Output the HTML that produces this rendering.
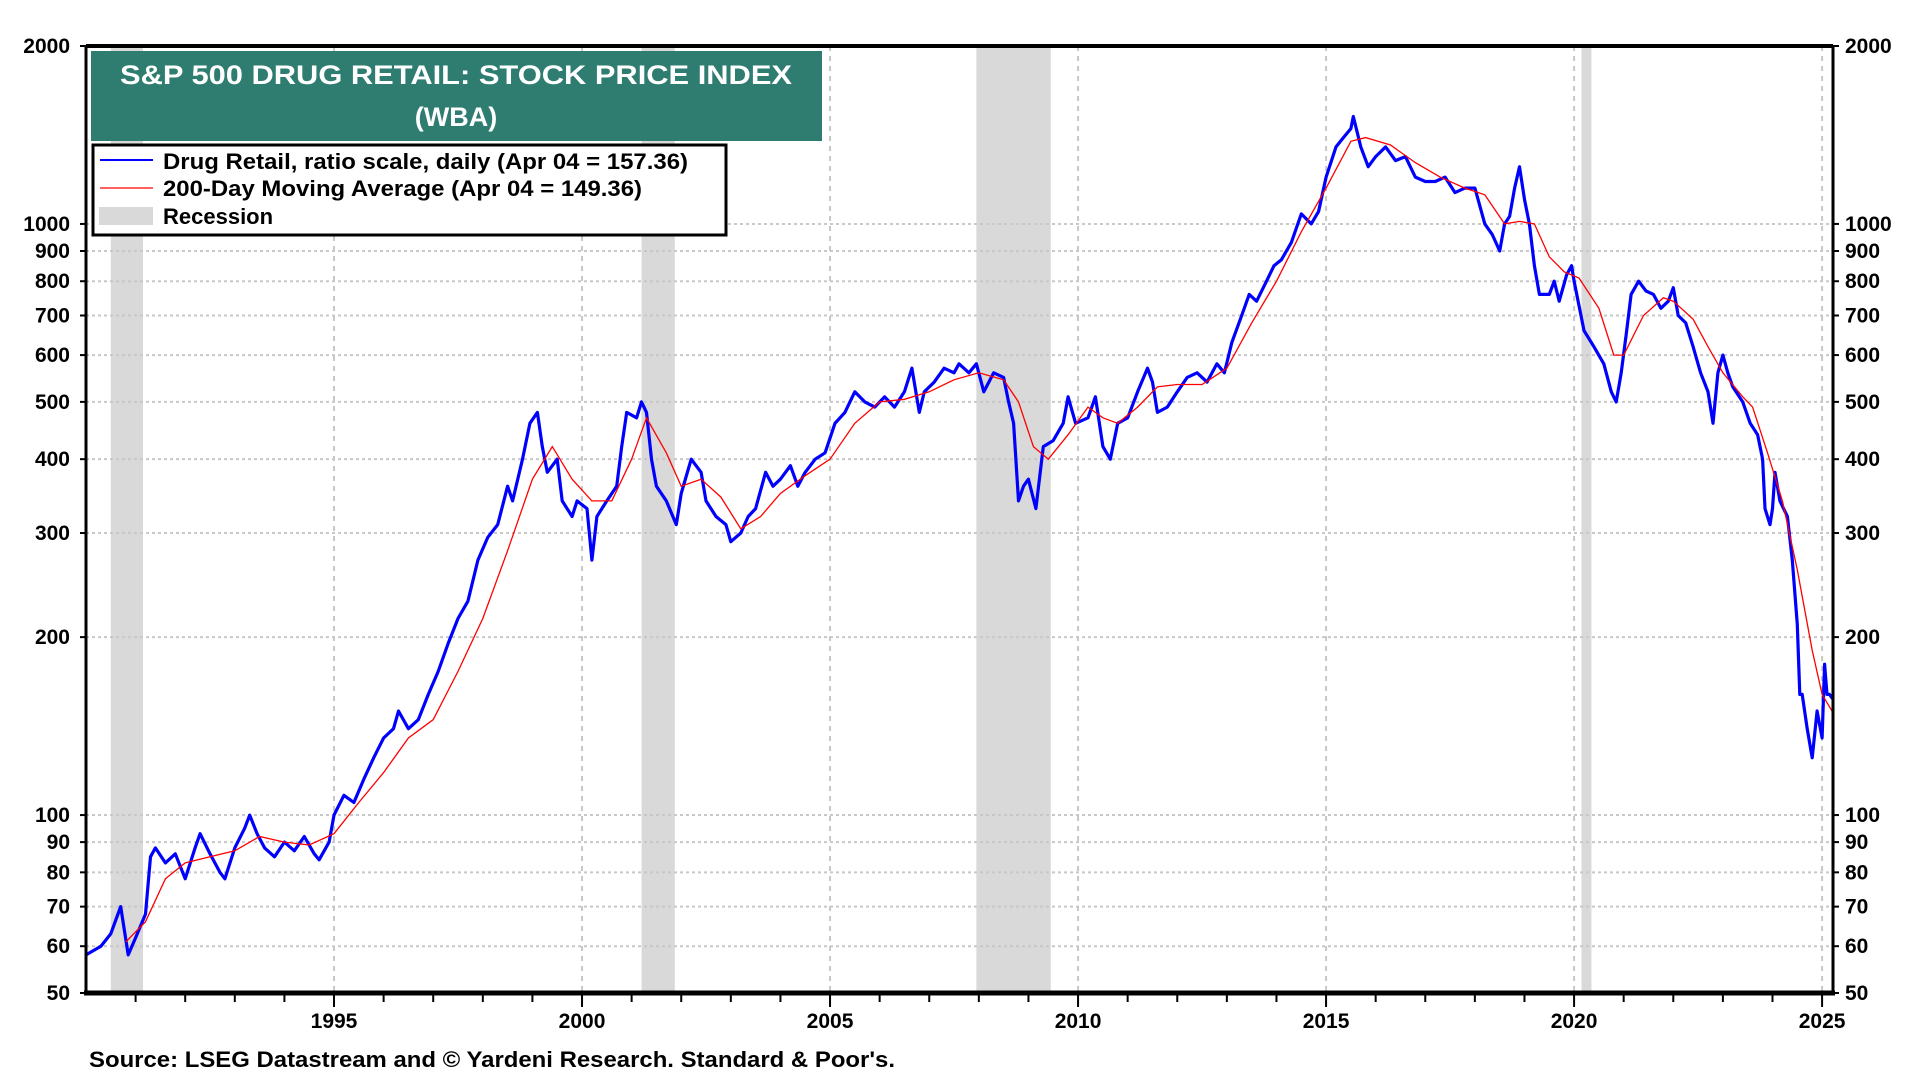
<!DOCTYPE html>
<html><head><meta charset="utf-8"><style>
html,body{margin:0;padding:0;background:#fff;}
svg{display:block;font-family:"Liberation Sans",sans-serif;}
</style></head><body>
<svg id="chart" width="1920" height="1080" viewBox="0 0 1920 1080" xmlns="http://www.w3.org/2000/svg">
<g id="recessions"></g>
<g id="grid"></g>
<g id="series"></g>
<g id="axes"></g>
<g>
<rect x="91" y="51" width="731" height="90" fill="#2e7d70"/>
<text x="456" y="84" text-anchor="middle" fill="#fff" font-size="27" font-weight="bold" textLength="672" lengthAdjust="spacingAndGlyphs">S&amp;P 500 DRUG RETAIL: STOCK PRICE INDEX</text>
<text x="456" y="126" text-anchor="middle" fill="#fff" font-size="27" font-weight="bold">(WBA)</text>
</g>
<g>
<rect x="93" y="145" width="633" height="90" fill="#fff" stroke="#000" stroke-width="3"/>
<line x1="100" y1="160" x2="153" y2="160" stroke="#0000ff" stroke-width="2"/>
<text x="163" y="169" font-size="22" font-weight="bold" textLength="525" lengthAdjust="spacingAndGlyphs">Drug Retail, ratio scale, daily (Apr 04 = 157.36)</text>
<line x1="100" y1="188" x2="153" y2="188" stroke="#ff0000" stroke-width="1.2"/>
<text x="163" y="196" font-size="22" font-weight="bold" textLength="479" lengthAdjust="spacingAndGlyphs">200-Day Moving Average (Apr 04 = 149.36)</text>
<rect x="99" y="207" width="54" height="18" fill="#d9d9d9"/>
<text x="163" y="224" font-size="22" font-weight="bold">Recession</text>
</g>
<text x="89" y="1067" font-size="22" font-weight="bold" textLength="806" lengthAdjust="spacingAndGlyphs">Source: LSEG Datastream and © Yardeni Research. Standard &amp; Poor's.</text>
</svg>
<script>
const priceDates=[1990.0,1990.3,1990.5,1990.7,1990.85,1991.0,1991.2,1991.3,1991.4,1991.6,1991.8,1992.0,1992.2,1992.3,1992.5,1992.7,1992.8,1993.0,1993.2,1993.3,1993.45,1993.6,1993.8,1994.0,1994.2,1994.4,1994.6,1994.7,1994.9,1995.0,1995.2,1995.4,1995.6,1995.8,1996.0,1996.2,1996.3,1996.5,1996.7,1996.9,1997.1,1997.3,1997.5,1997.7,1997.9,1998.1,1998.3,1998.5,1998.6,1998.8,1998.95,1999.1,1999.2,1999.3,1999.5,1999.6,1999.8,1999.9,2000.1,2000.2,2000.3,2000.5,2000.7,2000.8,2000.9,2001.1,2001.2,2001.3,2001.4,2001.5,2001.7,2001.9,2002.0,2002.2,2002.4,2002.5,2002.7,2002.9,2003.0,2003.2,2003.35,2003.5,2003.7,2003.85,2004.0,2004.2,2004.35,2004.5,2004.7,2004.9,2005.1,2005.3,2005.5,2005.7,2005.9,2006.1,2006.3,2006.5,2006.65,2006.8,2006.9,2007.1,2007.3,2007.5,2007.6,2007.8,2007.95,2008.1,2008.3,2008.5,2008.6,2008.7,2008.8,2008.9,2009.0,2009.15,2009.3,2009.5,2009.7,2009.8,2009.95,2010.2,2010.35,2010.5,2010.65,2010.8,2011.0,2011.2,2011.4,2011.5,2011.6,2011.8,2012.0,2012.2,2012.4,2012.6,2012.8,2012.95,2013.1,2013.3,2013.45,2013.6,2013.8,2013.95,2014.1,2014.3,2014.5,2014.7,2014.85,2015.0,2015.2,2015.35,2015.5,2015.55,2015.7,2015.85,2016.0,2016.2,2016.4,2016.6,2016.8,2017.0,2017.2,2017.4,2017.6,2017.8,2018.0,2018.2,2018.35,2018.5,2018.6,2018.7,2018.8,2018.9,2019.0,2019.1,2019.2,2019.3,2019.5,2019.6,2019.7,2019.85,2019.95,2020.0,2020.2,2020.4,2020.6,2020.75,2020.85,2020.95,2021.05,2021.15,2021.3,2021.45,2021.6,2021.75,2021.9,2022.0,2022.1,2022.25,2022.4,2022.55,2022.7,2022.8,2022.9,2023.0,2023.1,2023.2,2023.4,2023.55,2023.7,2023.8,2023.85,2023.95,2024.0,2024.05,2024.15,2024.3,2024.4,2024.5,2024.55,2024.6,2024.7,2024.8,2024.9,2025.0,2025.05,2025.1,2025.15,2025.22];
const priceValues=[58,60,63,70,58,62,68,85,88,83,86,78,88,93,86,80,78,88,95,100,93,88,85,90,87,92,86,84,90,100,108,105,115,125,135,140,150,140,145,160,175,195,215,230,270,295,310,360,340,400,460,480,420,380,400,340,320,340,330,270,320,340,360,420,480,470,500,480,400,360,340,310,350,400,380,340,320,310,290,300,320,330,380,360,370,390,360,380,400,410,460,480,520,500,490,510,490,520,570,480,520,540,570,560,580,560,580,520,560,550,500,460,340,360,370,330,420,430,460,510,460,470,510,420,400,460,470,520,570,540,480,490,520,550,560,540,580,560,630,700,760,740,800,850,870,930,1040,1000,1050,1200,1350,1400,1450,1520,1350,1250,1300,1350,1280,1300,1200,1180,1180,1200,1130,1150,1150,1000,960,900,1000,1030,1150,1250,1100,1000,850,760,760,800,740,820,850,800,660,620,580,520,500,560,650,760,800,770,760,720,740,780,700,680,620,560,520,460,560,600,560,530,500,460,440,400,330,310,330,380,340,320,270,210,160,160,140,125,150,135,180,160,160,157];
const maDates=[1990.8,1991.2,1991.6,1992.0,1992.5,1993.0,1993.5,1994.0,1994.5,1995.0,1995.5,1996.0,1996.5,1997.0,1997.5,1998.0,1998.5,1999.0,1999.4,1999.8,2000.2,2000.6,2001.0,2001.3,2001.7,2002.0,2002.4,2002.8,2003.2,2003.6,2004.0,2004.5,2005.0,2005.5,2006.0,2006.5,2007.0,2007.5,2008.0,2008.5,2008.8,2009.1,2009.4,2009.8,2010.2,2010.5,2010.8,2011.2,2011.6,2012.0,2012.5,2013.0,2013.5,2014.0,2014.5,2015.0,2015.5,2015.8,2016.3,2016.8,2017.3,2017.8,2018.2,2018.6,2018.9,2019.2,2019.5,2019.8,2020.1,2020.5,2020.8,2021.0,2021.4,2021.8,2022.0,2022.4,2022.7,2023.0,2023.4,2023.6,2023.9,2024.2,2024.5,2024.8,2025.0,2025.22];
const maValues=[61,66,78,83,85,87,92,90,89,93,105,118,135,145,175,215,280,370,420,370,340,340,400,470,410,360,370,345,305,320,350,375,400,460,500,505,520,545,560,545,500,420,400,440,490,470,460,490,530,535,535,570,680,800,970,1150,1380,1400,1360,1270,1200,1150,1120,1000,1010,1000,880,830,810,720,600,600,700,750,740,690,620,560,510,490,410,340,260,190,160,149];
const recStart=[1990.5,2001.2,2007.95,2020.15];
const recEnd=[1991.15,2001.87,2009.45,2020.35];
const yTicks=[50,60,70,80,90,100,200,300,400,500,600,700,800,900,1000,2000];
const yGrid=[60,70,80,90,100,200,300,400,500,600,700,800,900,1000];
const xTicks=[1995,2000,2005,2010,2015,2020,2025];

const L=86,R=1833,T=46,B=993,X0=1990.0,X1=2025.22,YMIN=50,YMAX=2000;
const NS='http://www.w3.org/2000/svg';
function xs(v){return L+(v-X0)/(X1-X0)*(R-L);}
function ys(v){return B-(Math.log(v)-Math.log(YMIN))/(Math.log(YMAX)-Math.log(YMIN))*(B-T);}
function mk(tag,attrs,parent){const e=document.createElementNS(NS,tag);for(const k in attrs)e.setAttribute(k,attrs[k]);parent.appendChild(e);return e;}
const gRec=document.getElementById('recessions'),gGrid=document.getElementById('grid'),gS=document.getElementById('series'),gA=document.getElementById('axes');
recStart.forEach((s,i)=>{const r=mk('rect',{x:xs(s),y:T,width:xs(recEnd[i])-xs(s),height:B-T,fill:'#d9d9d9'},gRec);

});
yGrid.forEach(v=>{const l=mk('line',{x1:L,x2:R,y1:ys(v),y2:ys(v),stroke:'#c8c8c8','stroke-width':2,'stroke-dasharray':'3,3'},gGrid);

});
xTicks.forEach(v=>{const l=mk('line',{x1:xs(v),x2:xs(v),y1:T,y2:B,stroke:'#c8c8c8','stroke-width':2,'stroke-dasharray':'5,5'},gGrid);

});
function path(d,v){return d.map((t,i)=>(i?'L':'M')+xs(t).toFixed(1)+','+ys(v[i]).toFixed(1)).join('');}
const pb=mk('path',{d:path(priceDates,priceValues),fill:'none',stroke:'#0000ff','stroke-width':3.2,'stroke-linejoin':'round'},gS);


const pr=mk('path',{d:path(maDates,maValues),fill:'none',stroke:'#ff0000','stroke-width':1.3},gS);


mk('line',{x1:L,x2:R,y1:T,y2:T,stroke:'#000','stroke-width':4},gA);
mk('line',{x1:L-2,x2:R+2,y1:B,y2:B,stroke:'#000','stroke-width':5},gA);
mk('line',{x1:L,x2:L,y1:T,y2:B,stroke:'#000','stroke-width':3},gA);
mk('line',{x1:R,x2:R,y1:T,y2:B,stroke:'#000','stroke-width':3},gA);
for(let dec=10;dec<=1000;dec*=10){for(let m=1;m<10;m++){const v=m*dec;if(v<YMIN||v>YMAX)continue;
mk('line',{x1:L-6,x2:L,y1:ys(v),y2:ys(v),stroke:'#000','stroke-width':2},gA);
mk('line',{x1:R,x2:R+6,y1:ys(v),y2:ys(v),stroke:'#000','stroke-width':2},gA);}}
yTicks.forEach(v=>{
const a=mk('text',{x:L-16,y:ys(v)+7,'text-anchor':'end','font-size':21,'font-weight':'bold'},gA);a.textContent=v;


const b=mk('text',{x:R+12,y:ys(v)+7,'text-anchor':'start','font-size':21,'font-weight':'bold'},gA);b.textContent=v;

});
for(let yr=1991;yr<=2025;yr++){const maj=yr%5===0;mk('line',{x1:xs(yr),x2:xs(yr),y1:B,y2:B+(maj?14:9),stroke:'#000','stroke-width':2},gA);}
xTicks.forEach(v=>{const t=mk('text',{x:xs(v),y:1028,'text-anchor':'middle','font-size':21,'font-weight':'bold'},gA);t.textContent=v;

});
</script>
</body></html>
